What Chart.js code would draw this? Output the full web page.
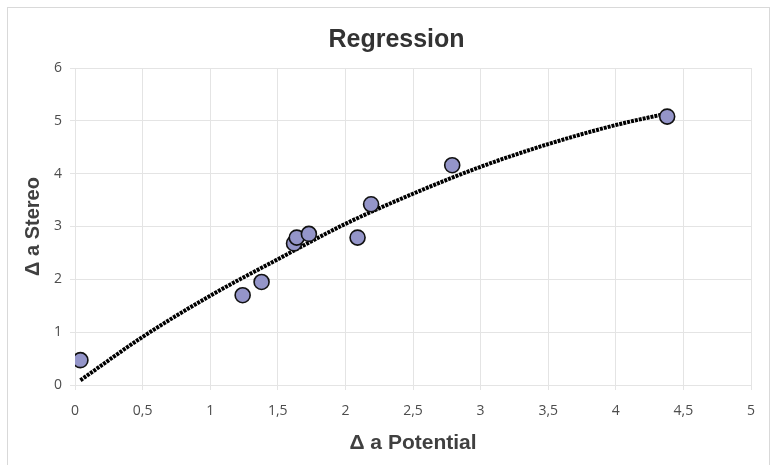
<!DOCTYPE html>
<html>
<head>
  <title>Regression</title>
  <script src="https://cdn.jsdelivr.net/npm/chart.js@4/dist/chart.umd.min.js"></script>
  <style>
    body { margin: 0; background: #fff; }
    #wrap { position: relative; width: 777px; height: 465px; }
  </style>
</head>
<body>
  <div id="wrap"><canvas id="chart"></canvas></div>
  <script>
    // measured points (Δ a Potential, Δ a Stereo)
    var potential = [0.04, 1.24, 1.38, 1.62, 1.64, 1.73, 2.09, 2.19, 2.79, 4.38];
    var stereo = [0.47, 1.70, 1.95, 2.68, 2.79, 2.86, 2.79, 3.42, 4.16, 5.08];

    // trendline
    var trendX = [0.04, 0.5, 1, 1.5, 2, 2.5, 3, 3.5, 4, 4.38];
    var trendY = [0.09, 0.91, 1.69, 2.38, 3.05, 3.62, 4.13, 4.56, 4.92, 5.14];

    var xTickLabels = ["0", "0,5", "1", "1,5", "2", "2,5", "3", "3,5", "4", "4,5", "5"];
    var yTickLabels = ["0", "1", "2", "3", "4", "5", "6"];

    var points = potential.map(function (x, i) { return { x: x, y: stereo[i] }; });
    var trend = trendX.map(function (x, i) { return { x: x, y: trendY[i] }; });

    // light frame round the whole chart, title nudged to the right like the original
    var frame = {
      id: "frame",
      beforeDraw: function (chart) {
        var c = chart.ctx;
        c.save();
        c.fillStyle = "#fff";
        c.fillRect(0, 0, chart.width, chart.height);
        c.strokeStyle = "#d9d9d9";
        c.lineWidth = 1;
        c.strokeRect(7.5, 7.5, 762, 470);
        c.restore();
        var t = chart.titleBlock;
        if (t && !t._shifted) { t.left += 42; t._shifted = true; }
      }
    };

    var gridColor = "#e4e4e4";
    var tickFont = { family: "'Open Sans', sans-serif", size: 14 };

    new Chart(document.getElementById("chart"), {
      type: "scatter",
      data: {
        datasets: [
          {
            label: "Data",
            data: points,
            pointRadius: 7.5,
            pointHoverRadius: 7.5,
            pointBackgroundColor: "#9495c9",
            pointBorderColor: "#111",
            pointBorderWidth: 1.6,
            showLine: false
          },
          {
            label: "Trend",
            data: trend,
            showLine: true,
            pointRadius: 0,
            borderColor: "#000",
            borderWidth: 4,
            borderDash: [3, 1],
            cubicInterpolationMode: "monotone",
            fill: false
          }
        ]
      },
      options: {
        responsive: true,
        maintainAspectRatio: false,
        animation: false,
        layout: { padding: { left: 0, right: 26, top: 0, bottom: 0 } },
        plugins: {
          legend: { display: false },
          tooltip: { enabled: false },
          title: {
            display: true,
            text: "Regression",
            color: "#333",
            font: { family: "'Liberation Sans', Arial, sans-serif", size: 25, weight: "bold" },
            padding: { top: 25, bottom: 13 }
          }
        },
        scales: {
          x: {
            type: "linear",
            min: 0,
            max: 5,
            afterFit: function (s) { s.height = 80; },
            grid: { color: gridColor, tickLength: 5 },
            border: { color: gridColor },
            ticks: {
              stepSize: 0.5,
              padding: 13,
              color: "#4d4d4d",
              font: tickFont,
              maxRotation: 0,
              callback: function (v, i) { return xTickLabels[i]; }
            },
            title: {
              display: true,
              text: "Δ a Potential",
              color: "#404040",
              font: { family: "'Liberation Sans', Arial, sans-serif", size: 21, weight: "bold" },
              padding: { top: 0, bottom: 9 }
            }
          },
          y: {
            type: "linear",
            min: 0,
            max: 6,
            afterFit: function (s) { s.width = 75; },
            grid: { color: gridColor, tickLength: 5 },
            border: { color: gridColor },
            ticks: {
              stepSize: 1,
              padding: 8,
              color: "#4d4d4d",
              font: tickFont,
              callback: function (v, i) { return yTickLabels[i]; }
            },
            title: {
              display: true,
              text: "Δ a Stereo",
              color: "#404040",
              font: { family: "'Liberation Sans', Arial, sans-serif", size: 20, weight: "bold" },
              padding: { top: 21, bottom: 0 }
            }
          }
        }
      },
      plugins: [frame]
    });
  </script>
</body>
</html>
